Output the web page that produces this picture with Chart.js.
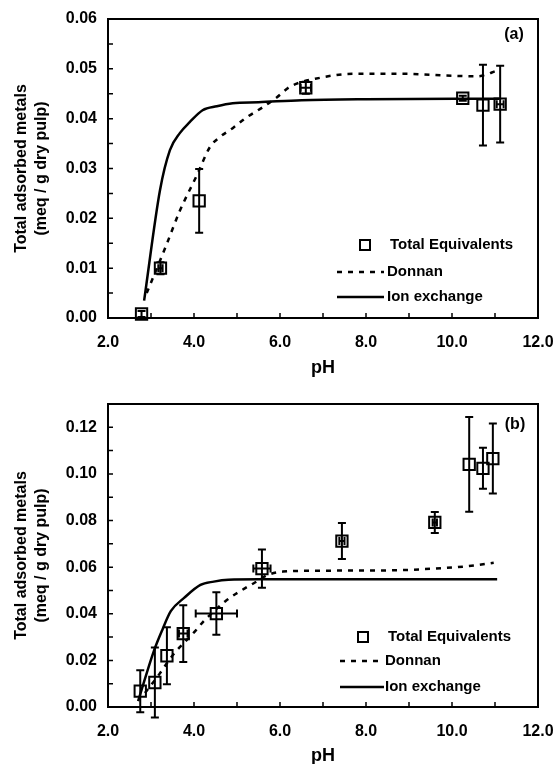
<!DOCTYPE html>
<html>
<head>
<meta charset="utf-8">
<script src="https://cdn.jsdelivr.net/npm/chart.js@4.4.1/dist/chart.umd.min.js"></script>
<style>
  html, body { margin: 0; padding: 0; background: #fff; }
  .panel { position: absolute; left: 0; width: 555px; height: 382px; }
  #panelA { top: 0; }
  #panelB { top: 382px; }
</style>
</head>
<body>
<div class="panel" id="panelA"><canvas id="chartA"></canvas></div>
<div class="panel" id="panelB"><canvas id="chartB"></canvas></div>
<script>
// ---- panel (a) ----
const phA     = [2.78, 3.22, 4.12, 6.6, 10.25, 10.72, 11.12];
const totalA  = [0.0008, 0.0100, 0.0235, 0.0462, 0.0441, 0.0427, 0.0429];
const yErrA   = [0.0006, 0.0012, 0.0064, 0.0012, 0.0005, 0.0081, 0.0077];
const xErrA   = [0, 0.05, 0, 0.12, 0, 0, 0.08];

const donnanPhA = [2.9, 3.35, 3.67, 4.07, 4.37, 4.6, 4.9, 5.23, 5.6, 5.93, 6.23, 6.93, 7.7, 8.86, 10.0, 10.58, 11.1];
const donnanA   = [0.005, 0.0145, 0.0215, 0.0287, 0.0343, 0.0363, 0.0381, 0.0403, 0.0423, 0.0443, 0.0464, 0.0482, 0.049, 0.049, 0.0486, 0.0485, 0.0498];

const ionPhA = [2.84, 3.21, 3.44, 3.67, 3.9, 4.2, 4.53, 4.9, 5.5, 6.5, 8.0, 11.1];
const ionA   = [0.0035, 0.0257, 0.0337, 0.0371, 0.0393, 0.0417, 0.0425, 0.0431, 0.0433, 0.0437, 0.0439, 0.044];

// ---- panel (b) ----
const phB    = [2.75, 3.09, 3.37, 3.75, 4.52, 5.58, 7.44, 9.6, 10.4, 10.72, 10.95];
const totalB = [0.0068, 0.0105, 0.022, 0.0315, 0.0401, 0.0594, 0.0712, 0.0792, 0.1041, 0.1024, 0.1066];
const yErrB  = [0.009, 0.015, 0.0122, 0.0122, 0.0091, 0.0082, 0.0077, 0.0045, 0.0203, 0.0088, 0.015];
const xErrB  = [0, 0, 0, 0.1, 0.48, 0.2, 0.06, 0.05, 0, 0, 0];

const donnanPhB = [2.86, 3.19, 3.5, 4.0, 4.23, 4.73, 5.19, 5.39, 5.7, 6.07, 7.0, 8.5, 9.78, 10.52, 10.97];
const donnanB   = [0.006, 0.014, 0.0221, 0.032, 0.0369, 0.0454, 0.051, 0.0531, 0.0565, 0.0581, 0.0585, 0.0586, 0.0596, 0.0607, 0.0619];

const ionPhB = [2.7, 3.07, 3.27, 3.46, 3.77, 4.15, 4.46, 4.8, 5.5, 8.0, 11.05];
const ionB   = [0.0025, 0.0242, 0.0334, 0.0411, 0.0468, 0.0524, 0.0538, 0.0546, 0.0548, 0.0548, 0.0548];

const legendLabels = ['Total Equivalents', 'Donnan', 'Ion exchange'];
const yTitle = ['Total adsorbed metals', '(meq / g dry pulp)'];
const xTitle = 'pH';

const FONT = '"Liberation Sans", Arial, sans-serif';
Chart.defaults.font.family = FONT;
Chart.defaults.color = '#000';

const pts = (xs, ys) => xs.map((v, i) => ({ x: v, y: ys[i] }));

// box around the plot plus small inward ticks on the left and bottom
const frameTicks = {
  id: 'frameTicks',
  afterDraw(chart, args, opts) {
    const { ctx, chartArea: a, scales: { x, y } } = chart;
    ctx.save();
    ctx.strokeStyle = '#000';
    ctx.lineWidth = 2;
    ctx.strokeRect(a.left, a.top, a.right - a.left, a.bottom - a.top);
    ctx.lineWidth = 1.5;
    ctx.beginPath();
    for (let v = x.min + opts.xMinor; v < x.max - 1e-9; v += opts.xMinor) {
      const px = x.getPixelForValue(v);
      ctx.moveTo(px, a.bottom);
      ctx.lineTo(px, a.bottom - 5);
    }
    for (let v = y.min + opts.yMinor; v < y.max - 1e-9; v += opts.yMinor) {
      const py = y.getPixelForValue(v);
      ctx.moveTo(a.left, py);
      ctx.lineTo(a.left + 5, py);
    }
    ctx.stroke();
    ctx.restore();
  }
};

// vertical / horizontal error bars with caps
const errorBars = {
  id: 'errorBars',
  afterDatasetsDraw(chart) {
    const { ctx, scales: { x, y } } = chart;
    ctx.save();
    ctx.strokeStyle = '#000';
    ctx.lineWidth = 2;
    chart.data.datasets.forEach(ds => {
      if (!ds.yErr) return;
      ds.data.forEach((p, j) => {
        const px = x.getPixelForValue(p.x);
        const py = y.getPixelForValue(p.y);
        const ey = ds.yErr[j], ex = ds.xErr[j];
        ctx.beginPath();
        if (ey) {
          const t = y.getPixelForValue(p.y + ey), b = y.getPixelForValue(p.y - ey);
          ctx.moveTo(px, t); ctx.lineTo(px, b);
          ctx.moveTo(px - 4, t); ctx.lineTo(px + 4, t);
          ctx.moveTo(px - 4, b); ctx.lineTo(px + 4, b);
        }
        if (ex) {
          const l = x.getPixelForValue(p.x - ex), r = x.getPixelForValue(p.x + ex);
          ctx.moveTo(l, py); ctx.lineTo(r, py);
          ctx.moveTo(l, py - 4); ctx.lineTo(l, py + 4);
          ctx.moveTo(r, py - 4); ctx.lineTo(r, py + 4);
        }
        ctx.stroke();
      });
    });
    ctx.restore();
  }
};

// legend box inside the plot and the panel tag
const panelLegend = {
  id: 'panelLegend',
  afterDraw(chart, args, o) {
    const ctx = chart.ctx;
    ctx.save();
    ctx.fillStyle = '#000';
    ctx.strokeStyle = '#000';
    ctx.textBaseline = 'middle';
    ctx.font = 'bold 16px ' + FONT;
    ctx.textAlign = 'center';
    ctx.fillText(o.tag, o.tagX, o.tagY);

    ctx.font = 'bold 15px ' + FONT;
    ctx.textAlign = 'left';
    const [r0, r1, r2] = o.rows;
    ctx.lineWidth = 2;
    ctx.strokeRect(o.markX - 5, r0 - 5, 10, 10);
    ctx.fillText(legendLabels[0], o.textX, r0);

    ctx.lineWidth = 2.5;
    ctx.setLineDash([5, 6]);
    ctx.beginPath();
    ctx.moveTo(o.lineX0, r1); ctx.lineTo(o.lineX1, r1);
    ctx.stroke();
    ctx.setLineDash([]);
    ctx.fillText(legendLabels[1], o.textX - 3, r1);

    ctx.beginPath();
    ctx.moveTo(o.lineX0, r2); ctx.lineTo(o.lineX1, r2);
    ctx.stroke();
    ctx.fillText(legendLabels[2], o.textX - 3, r2);
    ctx.restore();
  }
};

function makePanel(id, d) {
  return new Chart(document.getElementById(id), {
    type: 'scatter',
    data: {
      datasets: [
        {
          label: legendLabels[2],
          data: pts(d.ionPh, d.ion),
          showLine: true,
          pointRadius: 0,
          borderColor: '#000',
          borderWidth: 2.5,
          cubicInterpolationMode: 'monotone'
        },
        {
          label: legendLabels[1],
          data: pts(d.donnanPh, d.donnan),
          showLine: true,
          pointRadius: 0,
          borderColor: '#000',
          borderWidth: 2.5,
          borderDash: [5, 6],
          cubicInterpolationMode: 'monotone'
        },
        {
          label: legendLabels[0],
          data: pts(d.ph, d.total),
          yErr: d.yErr,
          xErr: d.xErr,
          showLine: false,
          pointStyle: 'rect',
          pointRadius: 8,
          pointBorderWidth: 2,
          pointBorderColor: '#000',
          pointBackgroundColor: 'rgba(255,255,255,0)',
          clip: false
        }
      ]
    },
    options: {
      responsive: true,
      maintainAspectRatio: false,
      animation: false,
      events: [],
      layout: { padding: { top: d.padTop, right: 17, left: 0, bottom: 0 } },
      scales: {
        x: {
          type: 'linear',
          min: 2, max: 12,
          grid: { display: false, drawTicks: false },
          border: { display: false },
          ticks: {
            stepSize: 2,
            padding: 15,
            font: { size: 16, weight: 'bold' },
            callback: v => v.toFixed(1)
          },
          title: {
            display: true,
            text: xTitle,
            font: { size: 18, weight: 'bold', lineHeight: 1 },
            padding: { top: 0, bottom: d.xTitlePad }
          },
          afterFit: s => {
            s.height = d.xHeight;
            // the last tick label may hang past the frame
            s.paddingRight = 0;
            s.paddingLeft = 0;
          }
        },
        y: {
          min: 0, max: d.yMax,
          grid: { display: false, drawTicks: false },
          border: { display: false },
          ticks: {
            stepSize: d.yStep,
            includeBounds: false,
            padding: 11,
            font: { size: 16, weight: 'bold' },
            callback: v => v.toFixed(2)
          },
          title: {
            display: true,
            text: yTitle,
            font: { size: 16, weight: 'bold', lineHeight: 1.25 },
            padding: { top: 12, bottom: 0 }
          },
          afterFit: s => {
            s.width = 108;
            s.paddingTop = 0;
            s.paddingBottom = 0;
          }
        }
      },
      plugins: {
        legend: { display: false },
        tooltip: { enabled: false },
        frameTicks: { xMinor: 1, yMinor: d.yMinor },
        panelLegend: d.legend
      }
    },
    plugins: [frameTicks, errorBars, panelLegend]
  });
}

makePanel('chartA', {
  ph: phA, total: totalA, yErr: yErrA, xErr: xErrA,
  donnanPh: donnanPhA, donnan: donnanA, ionPh: ionPhA, ion: ionA,
  yMax: 0.06, yStep: 0.01, yMinor: 0.005,
  padTop: 19, xHeight: 64, xTitlePad: 5,
  legend: { tag: '(a)', tagX: 514, tagY: 35, markX: 365, textX: 390, lineX0: 337, lineX1: 384, rows: [245, 272, 297] }
});

makePanel('chartB', {
  ph: phB, total: totalB, yErr: yErrB, xErr: xErrB,
  donnanPh: donnanPhB, donnan: donnanB, ionPh: ionPhB, ion: ionB,
  yMax: 0.13, yStep: 0.02, yMinor: 0.01,
  padTop: 22, xHeight: 57, xTitlePad: -1.5,
  legend: { tag: '(b)', tagX: 515, tagY: 43, markX: 363, textX: 388, lineX0: 340, lineX1: 384, rows: [255, 279, 305] }
});
</script>
</body>
</html>
